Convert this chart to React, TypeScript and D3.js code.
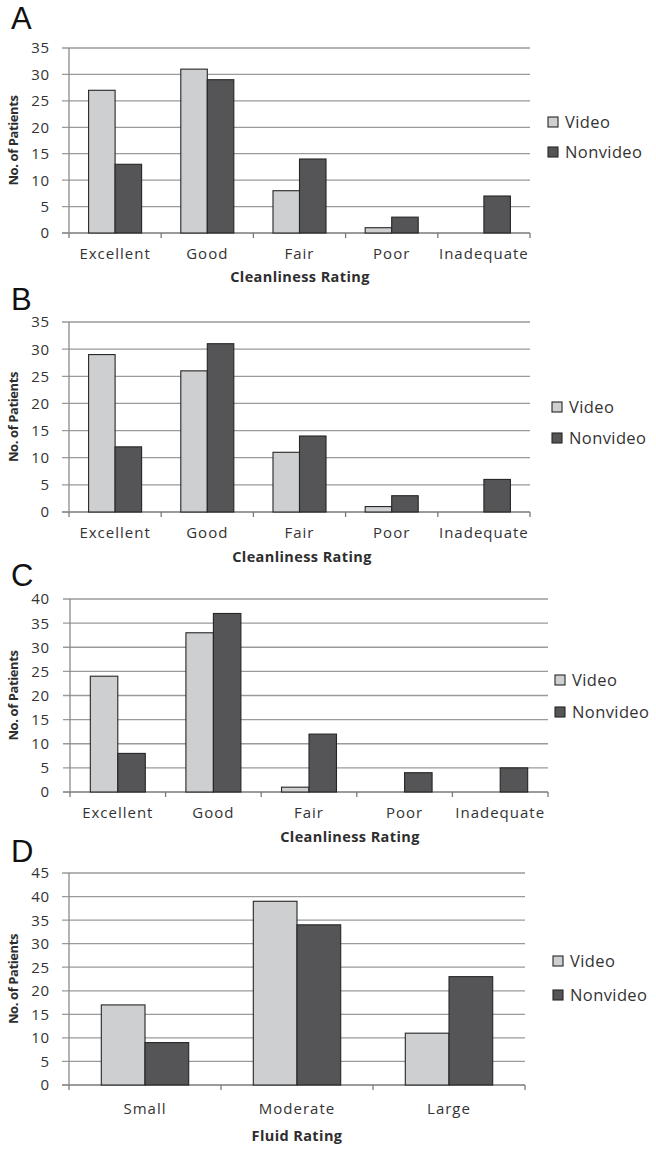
import React from "react";
import * as d3 from "d3";

const cleanCategories = ["Excellent", "Good", "Fair", "Poor", "Inadequate"];
const fluidCategories = ["Small", "Moderate", "Large"];
const seriesNames = ["Video", "Nonvideo"];

const videoA = [27, 31, 8, 1, 0];
const nonvideoA = [13, 29, 14, 3, 7];
const videoB = [29, 26, 11, 1, 0];
const nonvideoB = [12, 31, 14, 3, 6];
const videoC = [24, 33, 1, 0, 0];
const nonvideoC = [8, 37, 12, 4, 5];
const videoD = [17, 39, 11];
const nonvideoD = [9, 34, 23];

const yMaxA = 35;
const yMaxB = 35;
const yMaxC = 40;
const yMaxD = 45;

const colors = ["#cdcfd1", "#555557"];
const FONT = "'Open Sans', 'DejaVu Sans', sans-serif";

type PanelProps = {
  letter: string;
  cats: string[];
  video: number[];
  nonvideo: number[];
  yMax: number;
  xTitle: string;
  top: number;
  bottom: number;
  left: number;
  right: number;
  letterY: number;
  legendX: number;
  legendY1: number;
  legendY2: number;
  catY: number;
  titleY: number;
  titleX: number;
};

function Panel(p: PanelProps) {
  const x = d3.scaleBand<string>().domain(p.cats).range([p.left, p.right]).padding(0);
  const y = d3.scaleLinear().domain([0, p.yMax]).range([p.bottom, p.top]);
  const ticks = d3.range(0, p.yMax + 1, 5);
  const step = x.step();
  const group = step * 0.575;
  const sub = d3.scaleBand<string>().domain(seriesNames).range([0, group]).padding(0);
  const series = [p.video, p.nonvideo];
  const boundaries = d3.range(0, p.cats.length + 1).map((i) => p.left + i * step);
  return (
    <g>
      <text x={11} y={p.letterY} fontFamily="'Liberation Sans', Arial, sans-serif" fontSize={31} fill="#111">
        {p.letter}
      </text>
      {ticks.map((t) => (
        <g key={t}>
          <line x1={p.left - 7} x2={p.right} y1={y(t)} y2={y(t)} stroke={t === 0 ? "#7a7a7a" : "#9a9a9a"} strokeWidth={1.3} />
          <text x={50} y={y(t)} dy="0.36em" textAnchor="end" fontFamily={FONT} fontSize={15} fill="#333" letterSpacing={0.8}>
            {t}
          </text>
        </g>
      ))}
      <line x1={p.left} x2={p.left} y1={p.top} y2={p.bottom} stroke="#8a8a8a" strokeWidth={1.3} />
      {boundaries.map((b, i) => (
        <line key={i} x1={b} x2={b} y1={p.bottom} y2={p.bottom + 5} stroke="#7a7a7a" strokeWidth={1.3} />
      ))}
      {p.cats.map((c, ci) =>
        series.map((vals, si) => {
          const v = vals[ci];
          if (v <= 0) return null;
          const bx = (x(c) as number) + (step - group) / 2 + (sub(seriesNames[si]) as number);
          return (
            <rect
              key={c + si}
              x={bx}
              y={y(v)}
              width={sub.bandwidth()}
              height={p.bottom - y(v)}
              fill={colors[si]}
              stroke="#262626"
              strokeWidth={1.1}
            />
          );
        })
      )}
      {p.cats.map((c) => (
        <text key={c} x={(x(c) as number) + step / 2} y={p.catY} dy="0.36em" textAnchor="middle" fontFamily={FONT} fontSize={15} fill="#333" letterSpacing={1}>
          {c}
        </text>
      ))}
      <text x={p.titleX} y={p.titleY} dy="0.36em" textAnchor="middle" fontFamily={FONT} fontSize={14.5} fontWeight="bold" fill="#2e2e2e" letterSpacing={0.4}>
        {p.xTitle}
      </text>
      <text
        transform={`translate(13,${(p.top + p.bottom) / 2}) rotate(-90)`}
        dy="0.36em"
        textAnchor="middle"
        fontFamily={FONT}
        fontSize={13}
        fontWeight="bold"
        fill="#2e2e2e"
        letterSpacing={-0.4}
      >
        No. of Patients
      </text>
      {seriesNames.map((s, si) => {
        const ly = si === 0 ? p.legendY1 : p.legendY2;
        return (
          <g key={s}>
            <rect x={p.legendX} y={ly - 5} width={10} height={10} fill={colors[si]} stroke="#262626" strokeWidth={1.1} />
            <text x={p.legendX + 17} y={ly} dy="0.36em" fontFamily={FONT} fontSize={16.5} fill="#333" letterSpacing={0.4}>
              {s}
            </text>
          </g>
        );
      })}
    </g>
  );
}

export default function App() {
  return (
    <svg width={656} height={1153} style={{ display: "block", position: "absolute", left: 0, top: 0, background: "#fff" }}>
      <rect width={656} height={1153} fill="#fff" />
      <Panel letter="A" cats={cleanCategories} video={videoA} nonvideo={nonvideoA} yMax={yMaxA} xTitle="Cleanliness Rating"
        top={48} bottom={233} left={69} right={530} letterY={29} legendX={548} legendY1={122} legendY2={152} catY={254} titleY={277} titleX={300} />
      <Panel letter="B" cats={cleanCategories} video={videoB} nonvideo={nonvideoB} yMax={yMaxB} xTitle="Cleanliness Rating"
        top={322} bottom={512} left={69} right={530} letterY={310} legendX={552} legendY1={407} legendY2={438} catY={533} titleY={557} titleX={302} />
      <Panel letter="C" cats={cleanCategories} video={videoC} nonvideo={nonvideoC} yMax={yMaxC} xTitle="Cleanliness Rating"
        top={599} bottom={792} left={70} right={548} letterY={586} legendX={555} legendY1={680} legendY2={712} catY={813} titleY={837} titleX={350} />
      <Panel letter="D" cats={fluidCategories} video={videoD} nonvideo={nonvideoD} yMax={yMaxD} xTitle="Fluid Rating"
        top={873} bottom={1085} left={69} right={525} letterY={862} legendX={553} legendY1={961} legendY2={995} catY={1109} titleY={1136} titleX={297} />
    </svg>
  );
}
